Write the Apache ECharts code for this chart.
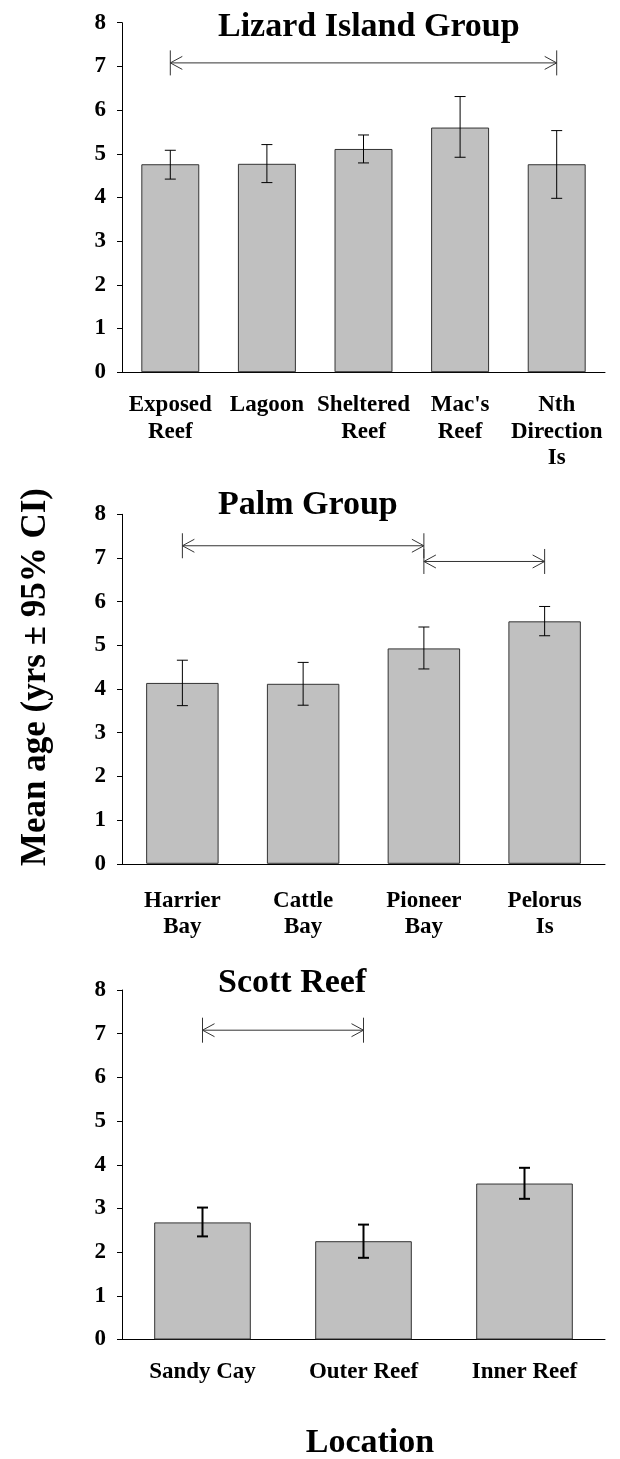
<!DOCTYPE html>
<html>
<head>
<meta charset="utf-8">
<script src="https://cdn.jsdelivr.net/npm/echarts@6/dist/echarts.min.js"></script>
<style>
  html, body { margin: 0; padding: 0; background: #fff; }
  #chart { width: 620px; height: 1459px; }
</style>
</head>
<body>
<div id="chart"></div>
<script>
// values (mean age, lower/upper 95% CI)
const lizardSites = ['Exposed\nReef', 'Lagoon', 'Sheltered\nReef', "Mac's\nReef", 'Nth\nDirection\nIs']
const lizardMean = [4.76, 4.77, 5.11, 5.60, 4.76]
const lizardLow  = [4.42, 4.34, 4.79, 4.92, 3.98]
const lizardHigh = [5.08, 5.21, 5.43, 6.31, 5.53]
const lizardArrows = [[0, 4, 7.08]]

const palmSites = ['Harrier\nBay', 'Cattle\nBay', 'Pioneer\nBay', 'Pelorus\nIs']
const palmMean = [4.14, 4.12, 4.93, 5.55]
const palmLow  = [3.62, 3.63, 4.46, 5.22]
const palmHigh = [4.66, 4.61, 5.42, 5.89]
const palmArrows = [[0, 2, 7.28], [2, 3, 6.92]]

const scottSites = ['Sandy Cay', 'Outer Reef', 'Inner Reef']
const scottMean = [2.68, 2.25, 3.57]
const scottLow  = [2.36, 1.87, 3.22]
const scottHigh = [3.02, 2.63, 3.93]
const scottArrows = [[0, 1, 7.08]]

const panelTitles = ['Lizard Island Group', 'Palm Group', 'Scott Reef']
const yLabel = 'Mean age (yrs \u00b1 95% CI)'
const xLabel = 'Location'

const FONT = "'Liberation Serif', 'Times New Roman', serif"

const panels = [
  { sites: lizardSites, mean: lizardMean, low: lizardLow, high: lizardHigh, arrows: lizardArrows, top: 22.7, labelMargin: 20, titleTop: 10, errW: 1 },
  { sites: palmSites, mean: palmMean, low: palmLow, high: palmHigh, arrows: palmArrows, top: 514.3, labelMargin: 24, titleTop: 488, errW: 1 },
  { sites: scottSites, mean: scottMean, low: scottLow, high: scottHigh, arrows: scottArrows, top: 990, labelMargin: 19, titleTop: 966, errW: 2 },
]

function errorBar(lineWidth) {
  return function (params, api) {
    const x = api.value(0)
    const lo = api.coord([x, api.value(1)])
    const hi = api.coord([x, api.value(2)])
    const hw = 5.5
    const style = { stroke: '#000', lineWidth: lineWidth }
    return {
      type: 'group',
      children: [
        { type: 'line', shape: { x1: lo[0], y1: lo[1], x2: hi[0], y2: hi[1] }, style },
        { type: 'line', shape: { x1: lo[0] - hw, y1: lo[1], x2: lo[0] + hw, y2: lo[1] }, style },
        { type: 'line', shape: { x1: hi[0] - hw, y1: hi[1], x2: hi[0] + hw, y2: hi[1] }, style },
      ],
    }
  }
}

function arrowItem(params, api) {
  const y = api.value(2)
  const a = api.coord([api.value(0), y])
  const b = api.coord([api.value(1), y])
  const style = { stroke: '#333', lineWidth: 1, fill: null }
  const tick = 12.5, head = 12, spread = 6.5
  return {
    type: 'group',
    children: [
      { type: 'line', shape: { x1: a[0], y1: a[1], x2: b[0], y2: b[1] }, style },
      { type: 'line', shape: { x1: a[0], y1: a[1] - tick, x2: a[0], y2: a[1] + tick }, style },
      { type: 'line', shape: { x1: b[0], y1: b[1] - tick, x2: b[0], y2: b[1] + tick }, style },
      { type: 'polyline', shape: { points: [[a[0] + head, a[1] - spread], [a[0], a[1]], [a[0] + head, a[1] + spread]] }, style },
      { type: 'polyline', shape: { points: [[b[0] - head, b[1] - spread], [b[0], b[1]], [b[0] - head, b[1] + spread]] }, style },
    ],
  }
}

const grid = [], xAxis = [], yAxis = [], series = [], title = []

panels.forEach((p, i) => {
  grid.push({ left: 122, width: 483, top: p.top, height: 349.5 })
  xAxis.push({
    type: 'category', gridIndex: i, data: p.sites,
    axisLine: { lineStyle: { color: '#000', width: 1 } },
    axisTick: { alignWithLabel: true, length: 5, lineStyle: { color: '#000' } },
    axisLabel: {
      interval: 0, margin: p.labelMargin, color: '#000',
      fontFamily: FONT, fontWeight: 'bold', fontSize: 23, lineHeight: 26.5,
    },
  })
  yAxis.push({
    type: 'value', gridIndex: i, min: 0, max: 8, interval: 1,
    splitLine: { show: false },
    axisLine: { show: true, lineStyle: { color: '#000', width: 1 } },
    axisTick: { show: true, length: 5, lineStyle: { color: '#000' } },
    axisLabel: { margin: 16, color: '#000', fontFamily: FONT, fontWeight: 'bold', fontSize: 23 },
  })
  series.push({
    type: 'bar', xAxisIndex: i, yAxisIndex: i, data: p.mean, barWidth: '60%',
    itemStyle: { color: '#c0c0c0', borderColor: '#333', borderWidth: 1 },
  })
  series.push({
    type: 'custom', xAxisIndex: i, yAxisIndex: i,
    data: p.low.map((v, k) => [k, v, p.high[k]]),
    encode: { x: 0, y: [1, 2] },
    renderItem: errorBar(p.errW), z: 3,
  })
  series.push({
    type: 'custom', xAxisIndex: i, yAxisIndex: i,
    data: p.arrows,
    encode: { x: [0, 1], y: 2 },
    renderItem: arrowItem, z: 3,
  })
  title.push({
    text: panelTitles[i], left: 218, top: p.titleTop, padding: 0,
    textStyle: { fontFamily: FONT, fontWeight: 'bold', fontSize: 34, color: '#000' },
  })
})

const chart = echarts.init(document.getElementById('chart'), null, { renderer: 'canvas' })
chart.setOption({
  animation: false,
  title, grid, xAxis, yAxis, series,
  graphic: [
    {
      type: 'text', x: 36, y: 677, rotation: Math.PI / 2,
      style: {
        text: yLabel, fontFamily: FONT, fontWeight: 'bold', fontSize: 35, fill: '#000',
        align: 'center', verticalAlign: 'middle',
      },
    },
    {
      type: 'text', x: 370, y: 1443,
      style: {
        text: xLabel, fontFamily: FONT, fontWeight: 'bold', fontSize: 34, fill: '#000',
        align: 'center', verticalAlign: 'middle',
      },
    },
  ],
})
</script>
</body>
</html>
